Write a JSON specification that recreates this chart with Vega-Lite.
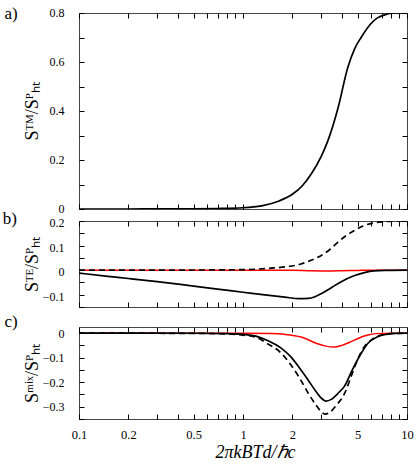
{
"$schema": "https://vega.github.io/schema/vega-lite/v6.json",
"padding": {"left": 2, "top": 4, "right": 5, "bottom": 2},
"background": "white",
"config": {
  "font": "Liberation Serif",
  "view": {"stroke": "#444", "strokeWidth": 1},
  "title": {"font": "Liberation Serif", "fontWeight": "normal", "fontSize": 17, "color": "black"},
  "axis": {"labelFont": "Liberation Serif", "titleFont": "Liberation Serif", "labelFontSize": 12.5, "labelColor": "black", "titleColor": "black", "tickColor": "black", "grid": false, "domain": false, "tickSize": -5, "labelFlush": false, "labelOverlap": false, "titleFontWeight": "normal"}
},
"datasets": {
  "tm": [{"x":0.1,"y":0},{"x":0.2,"y":0},{"x":0.3,"y":0.0003},{"x":0.5,"y":0.001},{"x":0.7,"y":0.002},{"x":1,"y":0.005},{"x":1.3,"y":0.013},{"x":1.66,"y":0.033},{"x":2,"y":0.06},{"x":2.3,"y":0.095},{"x":2.6,"y":0.142},{"x":3,"y":0.215},{"x":3.3,"y":0.28},{"x":3.8,"y":0.413},{"x":4.35,"y":0.577},{"x":4.8,"y":0.655},{"x":5.25,"y":0.7},{"x":6,"y":0.755},{"x":6.6,"y":0.78},{"x":7.5,"y":0.795},{"x":8.5,"y":0.8},{"x":10,"y":0.8}],
  "te_solid": [{"x":0.1,"y":-0.012},{"x":0.15,"y":-0.025},{"x":0.2,"y":-0.034},{"x":0.3,"y":-0.047},{"x":0.5,"y":-0.065},{"x":0.7,"y":-0.077},{"x":1,"y":-0.09},{"x":1.4,"y":-0.102},{"x":1.8,"y":-0.11},{"x":2.2,"y":-0.116},{"x":2.5,"y":-0.115},{"x":2.75,"y":-0.108},{"x":3,"y":-0.096},{"x":3.3,"y":-0.08},{"x":3.6,"y":-0.064},{"x":4,"y":-0.046},{"x":4.75,"y":-0.023},{"x":5.5,"y":-0.01},{"x":6.3,"y":-0.003},{"x":7.5,"y":-0.001},{"x":10,"y":0}],
  "te_dashed": [{"x":0.1,"y":0},{"x":0.5,"y":0.0005},{"x":1,"y":0.002},{"x":1.42,"y":0.007},{"x":1.8,"y":0.013},{"x":2.26,"y":0.025},{"x":2.6,"y":0.04},{"x":2.97,"y":0.058},{"x":3.4,"y":0.085},{"x":3.78,"y":0.113},{"x":4.2,"y":0.138},{"x":4.75,"y":0.16},{"x":5.4,"y":0.18},{"x":6.3,"y":0.192},{"x":7.3,"y":0.197},{"x":8.5,"y":0.2},{"x":10,"y":0.2}],
  "te_red": [{"x":0.1,"y":0},{"x":1,"y":0},{"x":2,"y":-0.0005},{"x":2.5,"y":-0.002},{"x":3,"y":-0.003},{"x":3.5,"y":-0.003},{"x":4,"y":-0.002},{"x":5,"y":-0.001},{"x":6,"y":0},{"x":10,"y":0}],
  "mix_solid": [{"x":0.1,"y":0},{"x":0.5,"y":-0.0005},{"x":0.8,"y":-0.002},{"x":1,"y":-0.005},{"x":1.2,"y":-0.012},{"x":1.41,"y":-0.03},{"x":1.7,"y":-0.06},{"x":1.96,"y":-0.097},{"x":2.2,"y":-0.14},{"x":2.5,"y":-0.192},{"x":2.8,"y":-0.24},{"x":3.0,"y":-0.265},{"x":3.22,"y":-0.277},{"x":3.45,"y":-0.27},{"x":3.8,"y":-0.245},{"x":4.17,"y":-0.215},{"x":4.6,"y":-0.155},{"x":5.25,"y":-0.083},{"x":5.8,"y":-0.04},{"x":6.6,"y":-0.015},{"x":7.5,"y":-0.005},{"x":8.5,"y":-0.001},{"x":10,"y":0}],
  "mix_dashed": [{"x":0.1,"y":0},{"x":0.5,"y":-0.001},{"x":0.8,"y":-0.003},{"x":1,"y":-0.008},{"x":1.2,"y":-0.017},{"x":1.41,"y":-0.043},{"x":1.7,"y":-0.08},{"x":1.96,"y":-0.13},{"x":2.2,"y":-0.18},{"x":2.5,"y":-0.245},{"x":2.8,"y":-0.295},{"x":3.0,"y":-0.32},{"x":3.16,"y":-0.33},{"x":3.4,"y":-0.322},{"x":3.7,"y":-0.295},{"x":4.17,"y":-0.245},{"x":4.6,"y":-0.17},{"x":4.98,"y":-0.11},{"x":5.5,"y":-0.055},{"x":6.0,"y":-0.03},{"x":6.8,"y":-0.01},{"x":8,"y":-0.002},{"x":10,"y":0}],
  "mix_red": [{"x":0.1,"y":0},{"x":1,"y":0},{"x":1.5,"y":-0.002},{"x":1.78,"y":-0.005},{"x":2.26,"y":-0.016},{"x":2.84,"y":-0.043},{"x":3.2,"y":-0.053},{"x":3.6,"y":-0.057},{"x":4,"y":-0.05},{"x":4.5,"y":-0.036},{"x":5.1,"y":-0.02},{"x":5.7,"y":-0.009},{"x":6.5,"y":-0.002},{"x":8,"y":0},{"x":10,"y":0}]
},
"spacing": 12,
"bounds": "flush",
"vconcat": [
 {
  "width": 328, "height": 196,
  "title": {"text": "a)", "orient": "left", "anchor": "end", "frame": "group", "angle": 0, "align": "right", "baseline": "middle", "offset": -8, "dy": 1},
  "resolve": {"axis": {"x": "independent", "y": "independent"}},
  "layer": [
   {"data": {"name": "tm"}, "mark": {"type": "line", "color": "black", "strokeWidth": 1.7, "interpolate": "monotone", "clip": true},
    "encoding": {
     "x": {"field": "x", "type": "quantitative", "scale": {"type": "log", "domain": [0.1, 10], "nice": false}, "axis": {"orient": "bottom", "values": [0.1,0.2,0.3,0.4,0.5,0.6,0.7,0.8,0.9,1,2,3,4,5,6,7,8,9,10], "labels": false, "title": null}},
     "y": {"field": "y", "type": "quantitative", "scale": {"domain": [0, 0.8], "nice": false, "zero": false}, "axis": {"orient": "left", "values": [0,0.1,0.2,0.3,0.4,0.5,0.6,0.7,0.8], "format": ".2~f", "labelExpr": "indexof([0,0.2,0.4,0.6,0.8], datum.value) >= 0 ? datum.label : ''", "labelPadding": 20, "labelFontSize": 12, "labelOffset": -1, "title": "Sᵀᴹ/Sᴾₕₜ", "titleFontSize": 18, "titleX": -42, "titleY": 98, "titleBaseline": "alphabetic", "titleAngle": 270}}
    }},
   {"data": {"name": "tm"}, "mark": {"type": "line", "opacity": 0},
    "encoding": {
     "x": {"field": "x", "type": "quantitative", "axis": {"orient": "top", "values": [0.1,0.2,0.3,0.4,0.5,0.6,0.7,0.8,0.9,1,2,3,4,5,6,7,8,9,10], "labels": false, "title": null}},
     "y": {"field": "y", "type": "quantitative", "axis": {"orient": "right", "values": [0,0.1,0.2,0.3,0.4,0.5,0.6,0.7,0.8], "labels": false, "title": null}}
    }}
  ]
 },
 {
  "spacing": 20,
  "bounds": "flush",
  "vconcat": [
   {
    "width": 328, "height": 86,
    "title": {"text": "b)", "orient": "left", "anchor": "end", "frame": "group", "angle": 0, "align": "right", "baseline": "middle", "offset": -8, "dy": -2},
    "resolve": {"axis": {"x": "independent", "y": "independent"}},
    "layer": [
     {"mark": {"type": "rule", "color": "#444", "strokeWidth": 0.8, "strokeDash": [1, 2]},
      "encoding": {"y": {"datum": 0, "type": "quantitative", "scale": {"domain": [-0.15, 0.2], "nice": false, "zero": false}, "axis": null}}},
     {"data": {"name": "te_red"}, "mark": {"type": "line", "color": "#ff0000", "strokeWidth": 1.5, "interpolate": "monotone", "clip": true},
      "encoding": {
       "x": {"field": "x", "type": "quantitative", "scale": {"type": "log", "domain": [0.1, 10], "nice": false}, "axis": {"orient": "bottom", "values": [0.1,0.2,0.3,0.4,0.5,0.6,0.7,0.8,0.9,1,2,3,4,5,6,7,8,9,10], "labels": false, "title": null}},
       "y": {"field": "y", "type": "quantitative", "axis": {"orient": "left", "values": [-0.15,-0.1,-0.05,0,0.05,0.1,0.15,0.2], "format": ".2~f", "labelExpr": "indexof([-0.1,0,0.1,0.2], datum.value) >= 0 ? datum.label : ''", "labelPadding": 20, "labelFontSize": 12, "labelOffset": 1.5, "title": "Sᵀᴱ/Sᴾₕₜ", "titleFontSize": 18, "titleX": -42, "titleY": 43, "titleBaseline": "alphabetic", "titleAngle": 270}}
      }},
     {"data": {"name": "te_solid"}, "mark": {"type": "line", "color": "black", "strokeWidth": 1.7, "interpolate": "monotone", "clip": true},
      "encoding": {"x": {"field": "x", "type": "quantitative", "axis": null}, "y": {"field": "y", "type": "quantitative", "axis": null}}},
     {"data": {"name": "te_dashed"}, "mark": {"type": "line", "color": "black", "strokeWidth": 1.7, "strokeDash": [6, 4], "interpolate": "monotone", "clip": true},
      "encoding": {"x": {"field": "x", "type": "quantitative", "axis": null}, "y": {"field": "y", "type": "quantitative", "axis": null}}},
     {"data": {"name": "te_solid"}, "mark": {"type": "line", "opacity": 0},
      "encoding": {
       "x": {"field": "x", "type": "quantitative", "axis": {"orient": "top", "values": [0.1,0.2,0.3,0.4,0.5,0.6,0.7,0.8,0.9,1,2,3,4,5,6,7,8,9,10], "labels": false, "title": null}},
       "y": {"field": "y", "type": "quantitative", "axis": {"orient": "right", "values": [-0.15,-0.1,-0.05,0,0.05,0.1,0.15,0.2], "labels": false, "title": null}}
      }}
    ]
   },
   {
    "width": 328, "height": 92,
    "title": {"text": "c)", "orient": "left", "anchor": "end", "frame": "group", "angle": 0, "align": "right", "baseline": "middle", "offset": -8, "dy": -5},
    "resolve": {"axis": {"x": "independent", "y": "independent"}},
    "layer": [
     {"mark": {"type": "rule", "color": "#444", "strokeWidth": 0.8, "strokeDash": [1, 2]},
      "encoding": {"y": {"datum": 0, "type": "quantitative", "scale": {"domain": [-0.35, 0.025], "nice": false, "zero": false}, "axis": null}}},
     {"data": {"name": "mix_red"}, "mark": {"type": "line", "color": "#ff0000", "strokeWidth": 1.5, "interpolate": "monotone", "clip": true},
      "encoding": {
       "x": {"field": "x", "type": "quantitative", "scale": {"type": "log", "domain": [0.1, 10], "nice": false}, "axis": {"orient": "bottom", "values": [0.1,0.2,0.3,0.4,0.5,0.6,0.7,0.8,0.9,1,2,3,4,5,6,7,8,9,10], "format": "~g", "labelExpr": "indexof([0.1,0.2,0.5,1,2,5,10], datum.value) >= 0 ? datum.label : ''", "labelPadding": 14, "title": "2πkBTd/ℏc", "titleFontSize": 18, "titleFontStyle": "italic", "titlePadding": 3, "titleX": 176}},
       "y": {"field": "y", "type": "quantitative", "axis": {"orient": "left", "values": [-0.35,-0.3,-0.25,-0.2,-0.15,-0.1,-0.05,0], "format": ".2~f", "labelExpr": "indexof([-0.3,-0.2,-0.1,0], datum.value) >= 0 ? datum.label : ''", "labelPadding": 20, "labelFontSize": 12, "title": "Sᵐⁱˣ/Sᴾₕₜ", "titleFontSize": 18, "titleX": -42, "titleY": 46, "titleBaseline": "alphabetic", "titleAngle": 270}}
      }},
     {"data": {"name": "mix_solid"}, "mark": {"type": "line", "color": "black", "strokeWidth": 1.7, "interpolate": "monotone", "clip": true},
      "encoding": {"x": {"field": "x", "type": "quantitative", "axis": null}, "y": {"field": "y", "type": "quantitative", "axis": null}}},
     {"data": {"name": "mix_dashed"}, "mark": {"type": "line", "color": "black", "strokeWidth": 1.7, "strokeDash": [6, 4], "interpolate": "monotone", "clip": true},
      "encoding": {"x": {"field": "x", "type": "quantitative", "axis": null}, "y": {"field": "y", "type": "quantitative", "axis": null}}},
     {"data": {"name": "mix_solid"}, "mark": {"type": "line", "opacity": 0},
      "encoding": {
       "x": {"field": "x", "type": "quantitative", "axis": {"orient": "top", "values": [0.1,0.2,0.3,0.4,0.5,0.6,0.7,0.8,0.9,1,2,3,4,5,6,7,8,9,10], "labels": false, "title": null}},
       "y": {"field": "y", "type": "quantitative", "axis": {"orient": "right", "values": [-0.35,-0.3,-0.25,-0.2,-0.15,-0.1,-0.05,0], "labels": false, "title": null}}
      }}
    ]
   }
  ]
 }
]
}
